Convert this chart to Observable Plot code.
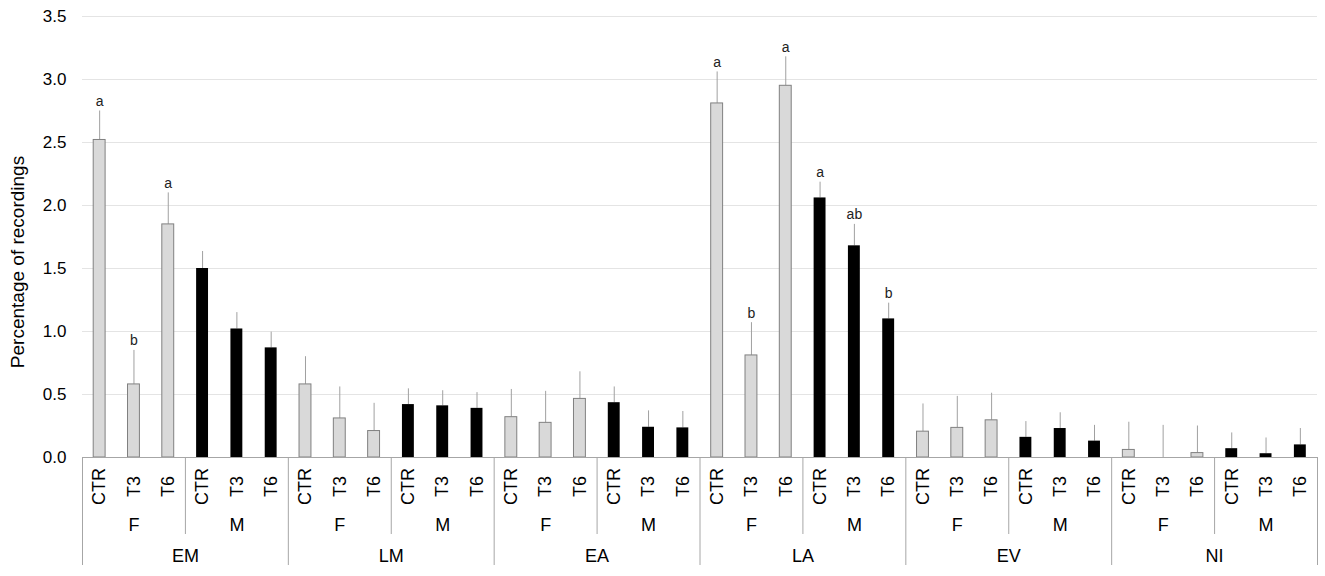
<!DOCTYPE html>
<html>
<head>
<meta charset="utf-8">
<script src="https://cdn.jsdelivr.net/npm/d3@7"></script>
<script src="https://cdn.jsdelivr.net/npm/@observablehq/plot@0.6"></script>
<style>
  html, body { margin: 0; padding: 0; background: #fff; }
  #chart svg { font-family: "Liberation Sans", Arial, sans-serif; background: #fff; }
</style>
</head>
<body>
<div id="chart"></div>
<script>
// Categories
const groups = ["EM", "LM", "EA", "LA", "EV", "NI"];
const sexes = ["F", "M"];
const treatments = ["CTR", "T3", "T6"];

// Mean percentage of recordings, ordered group > sex > treatment
const means = [
  2.52, 0.58, 1.85,   1.50, 1.02, 0.87,   // EM
  0.58, 0.31, 0.21,   0.42, 0.41, 0.39,   // LM
  0.32, 0.275, 0.465, 0.435, 0.24, 0.235, // EA
  2.81, 0.81, 2.95,   2.06, 1.68, 1.10,   // LA
  0.205, 0.235, 0.295, 0.16, 0.23, 0.13,  // EV
  0.06, 0.0, 0.035,   0.07, 0.03, 0.10    // NI
];
// Upper error (SE) values
const errors = [
  0.23, 0.27, 0.25,   0.135, 0.13, 0.125,
  0.22, 0.25, 0.22,   0.125, 0.12, 0.125,
  0.22, 0.25, 0.215,  0.125, 0.13, 0.13,
  0.25, 0.26, 0.23,   0.125, 0.17, 0.125,
  0.22, 0.25, 0.215,  0.125, 0.125, 0.125,
  0.22, 0.255, 0.215, 0.125, 0.125, 0.13
];
// Significance letters
const letters = [
  "a", "b", "a",  "", "", "",
  "", "", "",     "", "", "",
  "", "", "",     "", "", "",
  "a", "b", "a",  "a", "ab", "b",
  "", "", "",     "", "", "",
  "", "", "",     "", "", ""
];
const yTicks = [0, 0.5, 1.0, 1.5, 2.0, 2.5, 3.0, 3.5];
const yLabel = "Percentage of recordings";

// Build table
const rows = [];
groups.forEach((g, gi) => sexes.forEach((s, si) => treatments.forEach((t, ti) => {
  const i = gi * 6 + si * 3 + ti;
  rows.push({i, group: g, sex: s, treat: t, mean: means[i], err: errors[i], letter: letters[i]});
})));
const sexRows = [];
groups.forEach((g, gi) => sexes.forEach((s, si) => sexRows.push({start: gi * 6 + si * 3, sex: s})));
const groupRows = groups.map((g, gi) => ({start: gi * 6, group: g}));
const outerEdges = d3.range(0, groups.length + 1).map(k => ({pos: k * 6}));
const innerEdges = groups.map((g, gi) => ({pos: gi * 6 + 3}));
const yDomain = [0, 3.5];

const W = 1325, H = 576;
const mTop = 16, mBottom = 119, mLeft = 82, mRight = 8;
const frameH = H - mTop - mBottom;
const lineColor = "#a6a6a6";

const plot = Plot.plot({
  width: W,
  height: H,
  marginTop: mTop,
  marginBottom: mBottom,
  marginLeft: mLeft,
  marginRight: mRight,
  x: {type: "linear", domain: [0, rows.length], axis: null},
  y: {domain: yDomain, axis: null},
  marks: [
    Plot.gridY(yTicks.slice(1), {stroke: "#e4e4e4", strokeOpacity: 1}),
    Plot.axisY(yTicks, {tickSize: 0, tickPadding: 16, tickFormat: d => d.toFixed(1), fontSize: 17, fill: "#000", label: null}),
    // y-axis title
    Plot.text([yLabel], {frameAnchor: "left", text: d => d, rotate: -90, textAnchor: "middle", lineAnchor: "middle", dx: -65, dy: 25, fontSize: 19, fill: "#000"}),
    // error bars
    Plot.ruleX(rows, {x: d => d.i + 0.5, y1: "mean", y2: d => d.mean + d.err, stroke: "#a0a0a0", strokeWidth: 1}),
    // bars
    Plot.rectY(rows.filter(d => d.sex === "F"), {x1: "i", x2: d => d.i + 1, y: "mean", insetLeft: 11.2, insetRight: 11.2, fill: "#d9d9d9", stroke: "#808080", strokeWidth: 1}),
    Plot.rectY(rows.filter(d => d.sex === "M"), {x1: "i", x2: d => d.i + 1, y: "mean", insetLeft: 11.2, insetRight: 11.2, fill: "#000"}),
    // significance letters
    Plot.text(rows.filter(d => d.letter), {x: d => d.i + 0.5, y: d => d.mean + d.err, text: "letter", lineAnchor: "bottom", dy: -5, fontSize: 14, fill: "#222"}),
    // baseline
    Plot.ruleY([0], {stroke: lineColor}),
    // hierarchical category axis
    Plot.ruleX(innerEdges, {x: "pos", insetTop: frameH, insetBottom: -77, stroke: lineColor}),
    Plot.ruleX(outerEdges, {x: "pos", insetTop: frameH, insetBottom: -108, stroke: lineColor}),
    Plot.text(rows, {x: d => d.i + 0.5, y: 0, text: "treat", rotate: -90, dy: 29, fontSize: 18, fill: "#000"}),
    Plot.text(sexRows, {x: d => d.start + 1.5, y: 0, text: "sex", dy: 68, fontSize: 18, fill: "#000"}),
    Plot.text(groupRows, {x: d => d.start + 3, y: 0, text: "group", dy: 99, fontSize: 18, fill: "#000"})
  ]
});
document.getElementById("chart").appendChild(plot);
</script>
</body>
</html>
